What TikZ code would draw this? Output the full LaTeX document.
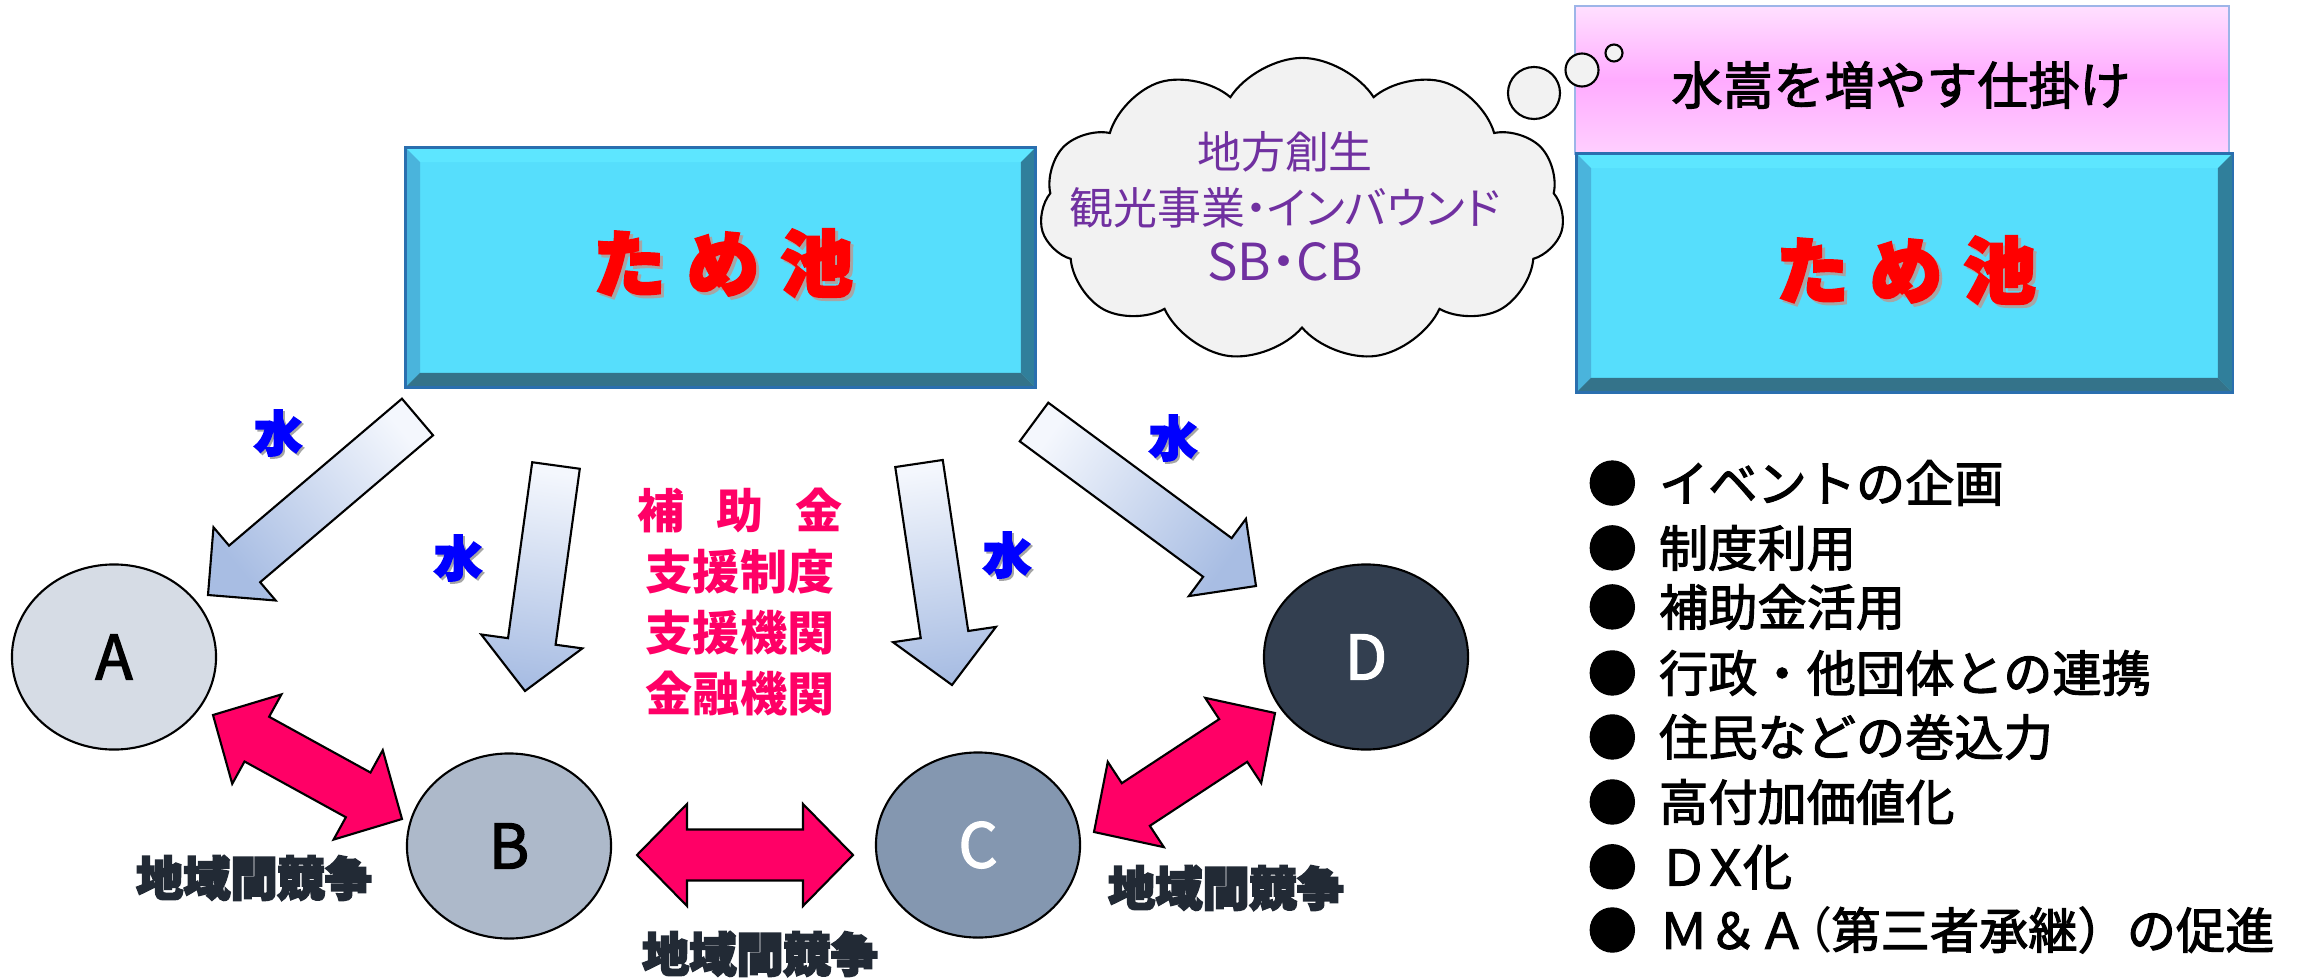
\documentclass[tikz,border=0pt]{standalone}
\usepackage{fontspec}
\setmainfont{Noto Sans CJK JP}
\newfontfamily\jpprop{Noto Sans CJK JP}[RawFeature=+palt]
\newfontfamily\jpmed{Noto Sans CJK JP}[FakeBold=2.2]
\newfontfamily\jpheavy{Noto Sans CJK JP}[BoldFeatures={FakeBold=4}]
\usetikzlibrary{calc,shapes.geometric,shapes.symbols}

\definecolor{pondface}{HTML}{56DEFC}
\definecolor{pondtop}{HTML}{5DE6FF}
\definecolor{pondleft}{HTML}{4AB4DC}
\definecolor{pondright}{HTML}{307F9B}
\definecolor{pondbottom}{HTML}{34738A}
\definecolor{pondline}{HTML}{2A6FAF}
\definecolor{pinktop}{HTML}{FFE0FF}
\definecolor{pinkmid}{HTML}{FFABFF}
\definecolor{pinkbot}{HTML}{FFD0FF}
\definecolor{pinkline}{HTML}{9DB5E8}
\definecolor{cloudgray}{HTML}{F2F2F2}
\definecolor{cloudtext}{HTML}{7030A0}
\definecolor{rivalpink}{HTML}{FF0066}
\definecolor{rivalgray}{HTML}{222A35}
\definecolor{waterlight}{HTML}{F4F7FD}
\definecolor{waterdark}{HTML}{A8BDE3}
\definecolor{townA}{HTML}{D6DCE5}
\definecolor{townB}{HTML}{ADB9CA}
\definecolor{townC}{HTML}{8497B0}
\definecolor{townD}{HTML}{333F50}

\tikzset{
  pond/.style={rectangle, fill=pondface, inner sep=0pt},
  pondtext/.style={text=red, font=\jpheavy\fontsize{20.5}{24}\selectfont},
  shadowtext/.style={text=black!35},
  town/.style={ellipse, draw=black, line width=0.6pt, minimum width=2.04cm, minimum height=1.85cm, font=\jpmed\fontsize{17.5}{20}\selectfont},
  bubble/.style={circle, draw=black, line width=0.6pt, fill=cloudgray, inner sep=0pt},
  watertext/.style={text=blue, font=\jpheavy\fontsize{13.7}{16}\selectfont\bfseries},
  rivaltext/.style={text=rivalgray, font=\jpheavy\fontsize{13.4}{16}\selectfont\bfseries},
  aidtext/.style={text=rivalpink, align=center, font=\fontsize{13.4}{17.4}\selectfont\bfseries},
  itemtext/.style={anchor=west, inner sep=0pt, font=\jpmed\fontsize{14}{16}\selectfont},
}

\newcommand{\bevel}[1]{%
  \fill[pondtop] (#1.north west) -- (#1.north east) -- ($(#1.north east)+(-15,15)$) -- ($(#1.north west)+(15,15)$) -- cycle;
  \fill[pondleft] (#1.north west) -- ($(#1.north west)+(15,15)$) -- ($(#1.south west)+(15,-15)$) -- (#1.south west) -- cycle;
  \fill[pondright] (#1.north east) -- ($(#1.north east)+(-15,15)$) -- ($(#1.south east)+(-15,-15)$) -- (#1.south east) -- cycle;
  \fill[pondbottom] (#1.south west) -- ($(#1.south west)+(15,-15)$) -- ($(#1.south east)+(-15,-15)$) -- (#1.south east) -- cycle;
  \draw[pondline, line width=0.8pt] (#1.north west) rectangle (#1.south east);
}

\newcommand{\waterarrow}[5]{%
  \coordinate (#1b) at ($(#2)!#5!(#1)$);
  \path[draw=black, line width=0.6pt, top color=waterlight, bottom color=waterdark, shading angle=#3]
    ($(#1)!0.24cm!90:(#2)$) -- ($(#1b)!0.24cm!90:(#2)$) -- ($(#1b)!#4!90:(#2)$) -- (#2)
    -- ($(#1b)!#4!-90:(#2)$) -- ($(#1b)!0.24cm!-90:(#2)$) -- ($(#1)!0.24cm!-90:(#2)$) -- cycle;
}

\newcommand{\rivalarrow}[2]{%
  \coordinate (#1#2p) at ($(#1)!0.5cm!(#2)$);
  \coordinate (#1#2q) at ($(#2)!0.5cm!(#1)$);
  \draw[fill=rivalpink, line width=0.6pt] (#1) -- ($(#1#2p)!0.51cm!90:(#2)$) -- ($(#1#2p)!0.255cm!90:(#2)$)
    -- ($(#1#2q)!0.255cm!90:(#2)$) -- ($(#1#2q)!0.51cm!90:(#2)$) -- (#2)
    -- ($(#1#2q)!0.51cm!-90:(#2)$) -- ($(#1#2q)!0.255cm!-90:(#2)$)
    -- ($(#1#2p)!0.255cm!-90:(#2)$) -- ($(#1#2p)!0.51cm!-90:(#2)$) -- cycle;
}

\begin{document}
\begin{tikzpicture}[x=0.01cm, y=-0.01cm]
\useasboundingbox (0,0) rectangle (2315,979);

\node[pond, minimum width=6.29cm, minimum height=2.39cm] (pondL) at (720.5,267.5) {};
\bevel{pondL}
\node[pondtext, shadowtext] at (726,266) {\bfseries た\hspace{0.3em}め\hspace{0.3em}池};
\node[pondtext] (pondLtxt) at (723,263) {\bfseries た\hspace{0.3em}め\hspace{0.3em}池};

\node[rectangle, draw=pinkline, line width=0.6pt, top color=pinktop, bottom color=pinkbot, middle color=pinkmid, minimum width=6.54cm, minimum height=1.48cm] (trick) at (1902,80) {};
\node[font=\jpmed\fontsize{14.5}{17}\selectfont] (tricktxt) at (1901,85) {水嵩を増やす仕掛け};
\node[pond, minimum width=6.55cm, minimum height=2.38cm] (pondR) at (1904.5,273) {};
\bevel{pondR}
\node[pondtext, shadowtext] at (1909,273) {\bfseries た\hspace{0.3em}め\hspace{0.3em}池};
\node[pondtext] (pondRtxt) at (1906,270) {\bfseries た\hspace{0.3em}め\hspace{0.3em}池};

\node[cloud, cloud puffs=11, cloud puff arc=115, aspect=1.7, draw=black, line width=0.6pt, fill=cloudgray, minimum width=5.24cm, minimum height=3.04cm, inner sep=0pt] (idea) at (1302,210) {};
\node[bubble, minimum size=0.52cm] (bub1) at (1534,93) {};
\node[bubble, minimum size=0.33cm] (bub2) at (1582,70) {};
\node[bubble, minimum size=0.17cm] (bub3) at (1614,53) {};
\node[text=cloudtext, align=center, font=\jpprop\fontsize{12.5}{15.9}\selectfont] (ideatxt) at (1285,206) {地方創生\\観光事業・インバウンド\\{\fontsize{14.5}{15.9}\selectfont SB・CB}};

\node[town, fill=townA] (A) at (114,657) {A};
\node[town, fill=townB] (B) at (509,846) {B};
\node[town, fill=townC, text=white] (C) at (978,845) {C};
\node[town, fill=townD, text=white] (D) at (1366,657) {D};

\coordinate (w1t) at (417.5,417);
\coordinate (w1h) at (208,595);
\coordinate (w2t) at (556,465.5);
\coordinate (w2h) at (525,691);
\coordinate (w3t) at (919,463.5);
\coordinate (w3h) at (952,685);
\coordinate (w4t) at (1034,422);
\coordinate (w4h) at (1256,586);
\waterarrow{w1t}{w1h}{310}{0.48cm}{0.48cm}
\waterarrow{w2t}{w2h}{352}{0.51cm}{0.5cm}
\waterarrow{w3t}{w3h}{8}{0.52cm}{0.51cm}
\waterarrow{w4t}{w4h}{54}{0.48cm}{0.48cm}

\node[watertext, shadowtext] at (280,435) {水};
\node[watertext] (water1) at (278,433) {水};
\node[watertext, shadowtext] at (460,560) {水};
\node[watertext] (water2) at (458,558) {水};
\node[watertext, shadowtext] at (1009,557) {水};
\node[watertext] (water3) at (1007,555) {水};
\node[watertext, shadowtext] at (1175,440) {水};
\node[watertext] (water4) at (1173,438) {水};

\node[aidtext] (aid) at (740,602) {補\hspace{0.68em}助\hspace{0.68em}金\\支援制度\\支援機関\\金融機関};

\coordinate (ab1) at (213,715);
\coordinate (ab2) at (402,819);
\coordinate (bc1) at (637,855);
\coordinate (bc2) at (853,855);
\coordinate (cd1) at (1094,832);
\coordinate (cd2) at (1275,713);
\rivalarrow{ab1}{ab2}
\rivalarrow{bc1}{bc2}
\rivalarrow{cd1}{cd2}

\node[rivaltext] (rival1) at (254,878) {地域間競争};
\node[rivaltext] (rival2) at (760,954) {地域間競争};
\node[rivaltext] (rival3) at (1226,888) {地域間競争};

\node[itemtext] (m1) at (1587,483) {●\hspace{0.45em}イベントの企画};
\node[itemtext] (m2) at (1587,548) {●\hspace{0.45em}制度利用};
\node[itemtext] (m3) at (1587,607) {●\hspace{0.45em}補助金活用};
\node[itemtext] (m4) at (1587,673) {●\hspace{0.45em}行政・他団体との連携};
\node[itemtext] (m5) at (1587,737) {●\hspace{0.45em}住民などの巻込力};
\node[itemtext] (m6) at (1587,802) {●\hspace{0.45em}高付加価値化};
\node[itemtext] (m7) at (1587,867) {●\hspace{0.45em}Ｄ\kern-0.15emＸ\kern-0.15em化};
\node[itemtext] (m8) at (1587,930) {●\hspace{0.45em}Ｍ＆Ａ{\jpprop （}第三者承継）の促進};
\end{tikzpicture}
\end{document}
